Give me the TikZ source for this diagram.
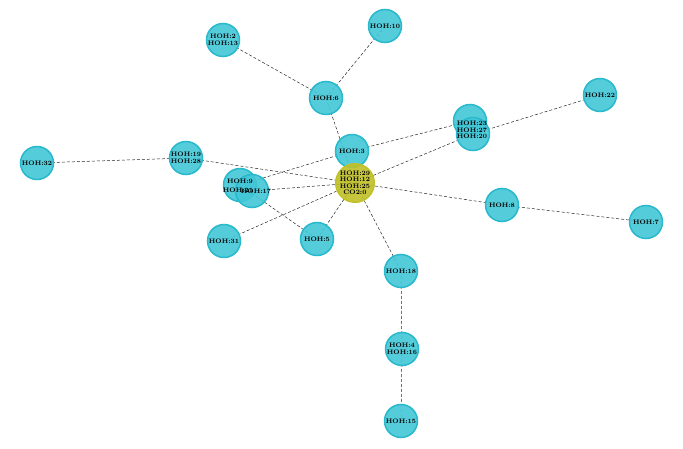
\documentclass[tikz,border=0pt]{standalone}
\usepackage{tikz}
\usetikzlibrary{backgrounds}
\definecolor{water}{RGB}{66,199,214}
\definecolor{waterrim}{RGB}{40,185,205}
\definecolor{ligand}{RGB}{192,192,40}
\tikzset{
  res/.style={circle, minimum size=33pt, inner sep=0pt, fill=water, fill opacity=0.9, text opacity=1, draw=waterrim, line width=1.5pt, font=\fontsize{6.5}{6.5}\selectfont\bfseries, align=center},
  lig/.style={res, minimum size=31pt, fill=ligand, draw=ligand},
  lbl/.style={font=\fontsize{6.5}{6.5}\selectfont\bfseries, align=center},
  bond/.style={densely dashed, gray!30!black, line width=0.5pt}
}
\begin{document}
\begin{tikzpicture}[x=1pt, y=-1pt]
	\useasboundingbox (0,0) rectangle (683,449);
	\node [res] (h2) at (223,40) {HOH:2\\HOH:13};
	\node [res] (h10) at (385,26) {HOH:10};
	\node [res] (h6) at (326,98) {HOH:6};
	\node [res] (h22) at (600,95) {HOH:22};
	\node [res] (h32) at (37,163) {HOH:32};
	\node [res] (h19) at (186,158) {HOH:19\\HOH:28};
	\node [res] (h31) at (224,241) {HOH:31};
	\node [res] (h5) at (317,239) {HOH:5};
	\node [res] (h8) at (502,205) {HOH:8};
	\node [res] (h7) at (646,222) {HOH:7};
	\node [res] (h18) at (401,271) {HOH:18};
	\node [res] (h4) at (402,349) {HOH:4\\HOH:16};
	\node [res] (h15) at (401,421) {HOH:15};
	\node [res] (h23) at (470,121) {};
	\node [res] (h27) at (473,134) {};
	\node [lbl] at (472,130) {HOH:23\\HOH:27\\HOH:20};
	\node [res] (h9) at (240,185) {};
	\node [res] (h17) at (252,191) {};
	\node [lbl] at (240,181) {HOH:9};
	\node [lbl] at (238,190) {HOH:21};
	\node [lbl] at (256,191) {HOH:17};
	\node [res] (h3) at (352,151) {HOH:3};
	\node [lig] (co2) at (355,183) {HOH:29\\HOH:12\\HOH:25\\CO2:0};
	% dashed bonds behind the circles
	\begin{scope}[on background layer]
	\foreach \a/\b in {h2/h6, h10/h6, h6/co2, h3/h23, h3/h9, h22/h27, h27/co2, h32/h19, h19/co2, h17/co2, h9/h5, h5/co2, h31/co2, co2/h8, h8/h7, co2/h18, h18/h4, h4/h15}
		\draw [bond] (\a.center) -- (\b.center);
	\end{scope}
\end{tikzpicture}
\end{document}
